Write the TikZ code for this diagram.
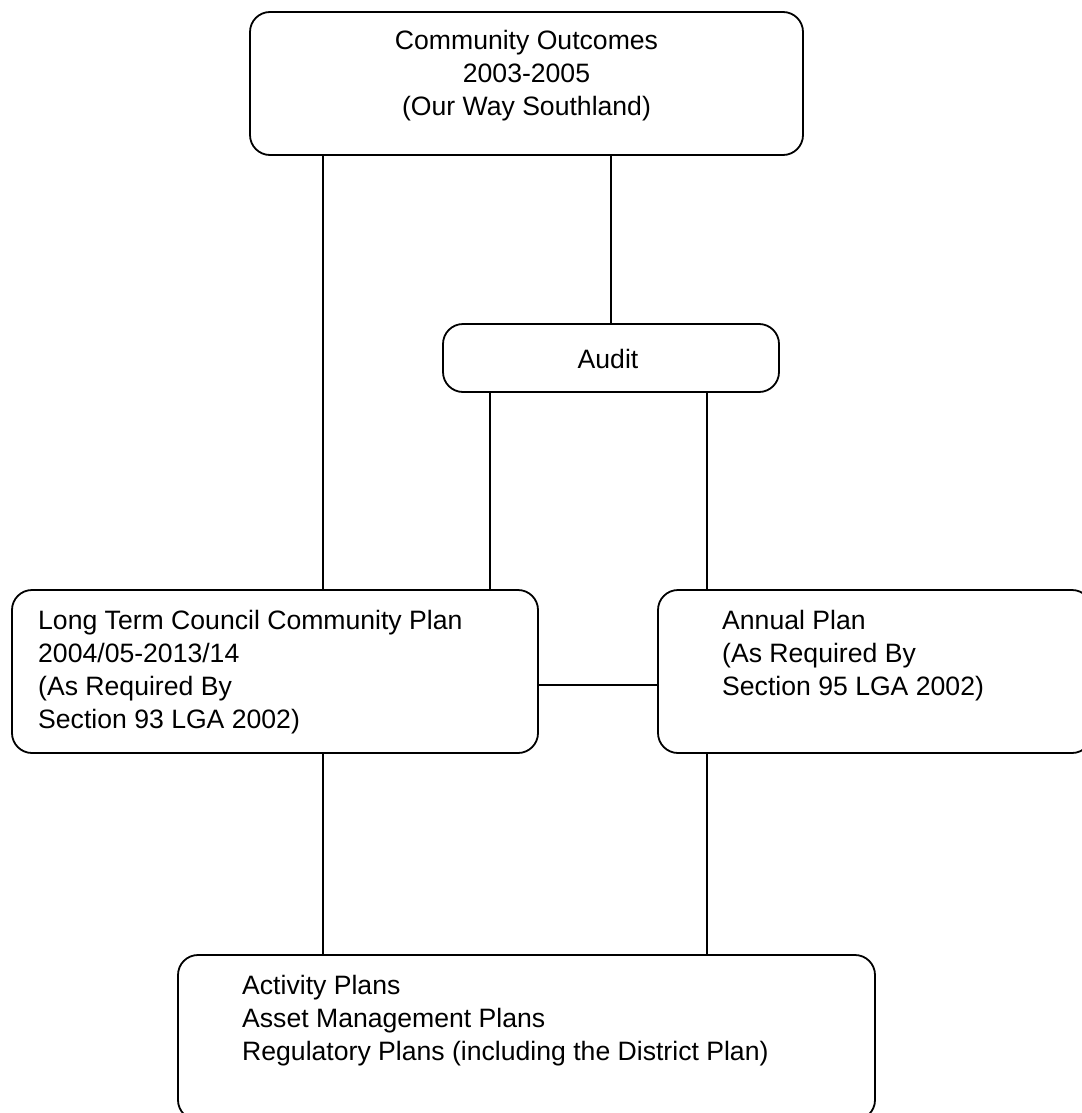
\documentclass[tikz,border=0pt]{standalone}
\usepackage{fontspec}
\setmainfont{Liberation Sans}
\begin{document}
\begin{tikzpicture}[x=1pt,y=1pt,
  box/.style={draw, line width=1.8pt, rounded corners=20pt, inner sep=0pt},
  txt/.style={inner sep=0pt, font=\fontsize{26.6pt}{33pt}\selectfont},
  conn/.style={line width=1.8pt}]
\useasboundingbox[fill=white] (0,0) rectangle (1081,-1113);
% boxes
\node[box, minimum width=553pt, minimum height=143pt] (top) at (526.5,-83.5) {};
\node[box, minimum width=336pt, minimum height=68pt] (audit) at (611,-358) {};
\node[box, minimum width=526pt, minimum height=163pt] (lt) at (275,-671.5) {};
\node[box, minimum width=434pt, minimum height=163pt] (ap) at (875,-671.5) {};
\node[box, minimum width=697pt, minimum height=165pt] (act) at (526.5,-1037.5) {};
% texts
\node[txt, align=center, anchor=north] (toptxt) at (526.5,-30.5) {Community Outcomes\\2003-2005\\(Our Way Southland)};
\node[txt, anchor=base] (audittxt) at (608,-368) {Audit};
\node[txt, align=left, anchor=north west] (lttxt) at (38,-610.5) {Long Term Council Community Plan\\2004/05-2013/14\\(As Required By\\Section 93 LGA 2002)};
\node[txt, align=left, anchor=north west] (aptxt) at (722,-610.5) {Annual Plan\\(As Required By\\Section 95 LGA 2002)};
\node[txt, align=left, anchor=north west] (acttxt) at (242,-975.5) {Activity Plans\\Asset Management Plans\\Regulatory Plans (including the District Plan)};
% x positions
\coordinate (xa) at (323,0);
\coordinate (xb) at (611,0);
\coordinate (xc) at (490,0);
\coordinate (xd) at (707,0);
\coordinate (ym) at (0,-685);
% connectors
\draw[conn] (top.south -| xa) -- (lt.north -| xa);
\draw[conn] (top.south -| xb) -- (audit.north -| xb);
\draw[conn] (audit.south -| xc) -- (lt.north -| xc);
\draw[conn] (audit.south -| xd) -- (ap.north -| xd);
\draw[conn] (lt.east |- ym) -- (ap.west |- ym);
\draw[conn] (lt.south -| xa) -- (act.north -| xa);
\draw[conn] (ap.south -| xd) -- (act.north -| xd);
\end{tikzpicture}
\end{document}
